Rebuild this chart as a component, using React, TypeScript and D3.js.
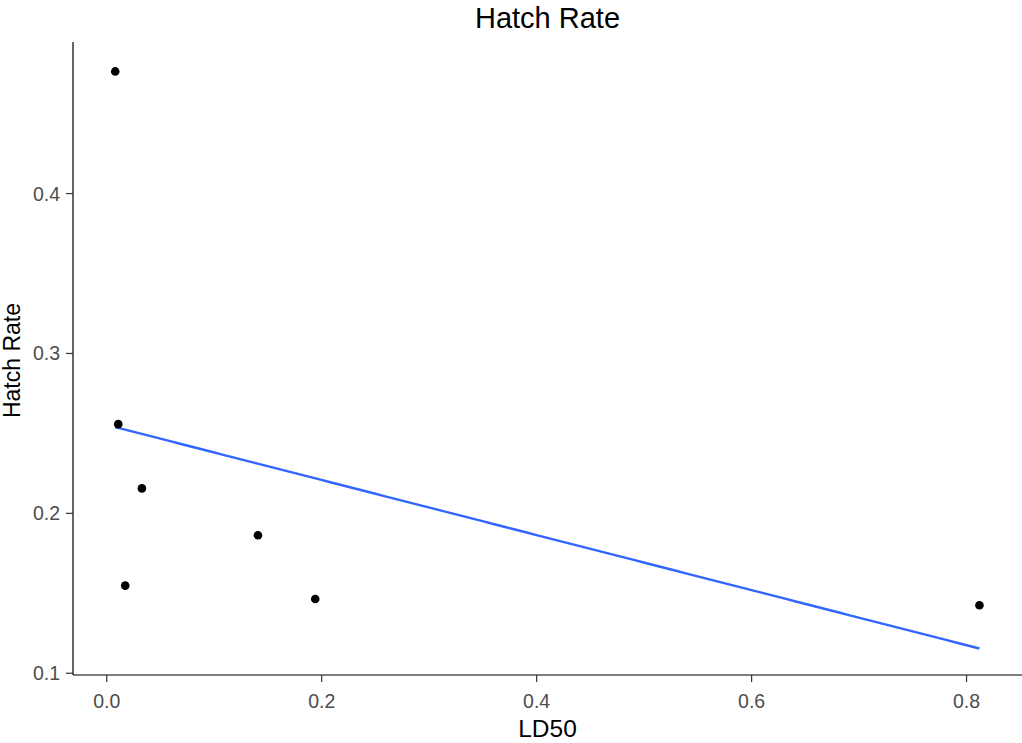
import React from 'react';
import * as d3 from 'd3';

// LD50 vs hatch rate
const ld50 = [0.0079, 0.0107, 0.0327, 0.0172, 0.1407, 0.194, 0.812];
const hatchRate = [0.4764, 0.2558, 0.2156, 0.1548, 0.1863, 0.1464, 0.1425];
const xTicks = [0.0, 0.2, 0.4, 0.6, 0.8];
const yTicks = [0.1, 0.2, 0.3, 0.4];

const width = 1022;
const height = 743;
const panel = { left: 73, right: 1022, top: 42, bottom: 675 };
const font = 'Arial, "Liberation Sans", sans-serif';

const App: React.FC = () => {
  const x = d3.scaleLinear().domain([-0.0314, 0.8516]).range([panel.left, panel.right]);
  const y = d3.scaleLinear().domain([0.0989, 0.4948]).range([panel.bottom, panel.top]);

  // ordinary least squares, like geom_smooth(method = "lm")
  const mx = d3.mean(ld50)!;
  const my = d3.mean(hatchRate)!;
  const sxy = d3.sum(ld50, (v, i) => (v - mx) * (hatchRate[i] - my));
  const sxx = d3.sum(ld50, v => (v - mx) ** 2);
  const slope = sxy / sxx;
  const intercept = my - slope * mx;
  const [x0, x1] = d3.extent(ld50) as [number, number];
  const fit = d3.range(0, 81).map(i => {
    const xv = x0 + ((x1 - x0) * i) / 80;
    return [xv, intercept + slope * xv] as [number, number];
  });
  const line = d3.line<[number, number]>().x(d => x(d[0])).y(d => y(d[1]));

  return (
    <svg width={width} height={height} style={{ position: 'absolute', left: 0, top: 0, background: '#fff' }}>
      <text x={(panel.left + panel.right) / 2} y={28} textAnchor="middle" fontFamily={font} fontSize={29} fill="#000">
        Hatch Rate
      </text>

      <path d={line(fit)!} fill="none" stroke="#3366FF" strokeWidth={2.4} />

      <g>
        {ld50.map((v, i) => (
          <circle key={i} cx={x(v)} cy={y(hatchRate[i])} r={4.3} fill="#000" />
        ))}
      </g>

      {/* axes */}
      <line x1={panel.left} x2={panel.left} y1={panel.top} y2={panel.bottom} stroke="#000" strokeWidth={1.2} />
      <line x1={panel.left} x2={panel.right} y1={panel.bottom} y2={panel.bottom} stroke="#000" strokeWidth={1.2} />

      {yTicks.map(t => (
        <g key={t} transform={`translate(0,${y(t)})`}>
          <line x1={panel.left - 7} x2={panel.left} stroke="#333" strokeWidth={1.2} />
          <text x={panel.left - 13} dy="0.36em" textAnchor="end" fontFamily={font} fontSize={19.5} fill="#4D4D4D">
            {d3.format('.1f')(t)}
          </text>
        </g>
      ))}

      {xTicks.map(t => (
        <g key={t} transform={`translate(${x(t)},${panel.bottom})`}>
          <line y1={0} y2={7} stroke="#333" strokeWidth={1.2} />
          <text y={33} textAnchor="middle" fontFamily={font} fontSize={19.5} fill="#4D4D4D">
            {d3.format('.1f')(t)}
          </text>
        </g>
      ))}

      <text x={(panel.left + panel.right) / 2} y={737} textAnchor="middle" fontFamily={font} fontSize={24.5} fill="#000">
        LD50
      </text>
      <text
        transform={`translate(20,${(panel.top + panel.bottom) / 2 + 2}) rotate(-90)`}
        textAnchor="middle"
        fontFamily={font}
        fontSize={23}
        fill="#000"
      >
        Hatch Rate
      </text>
    </svg>
  );
};

export default App;
